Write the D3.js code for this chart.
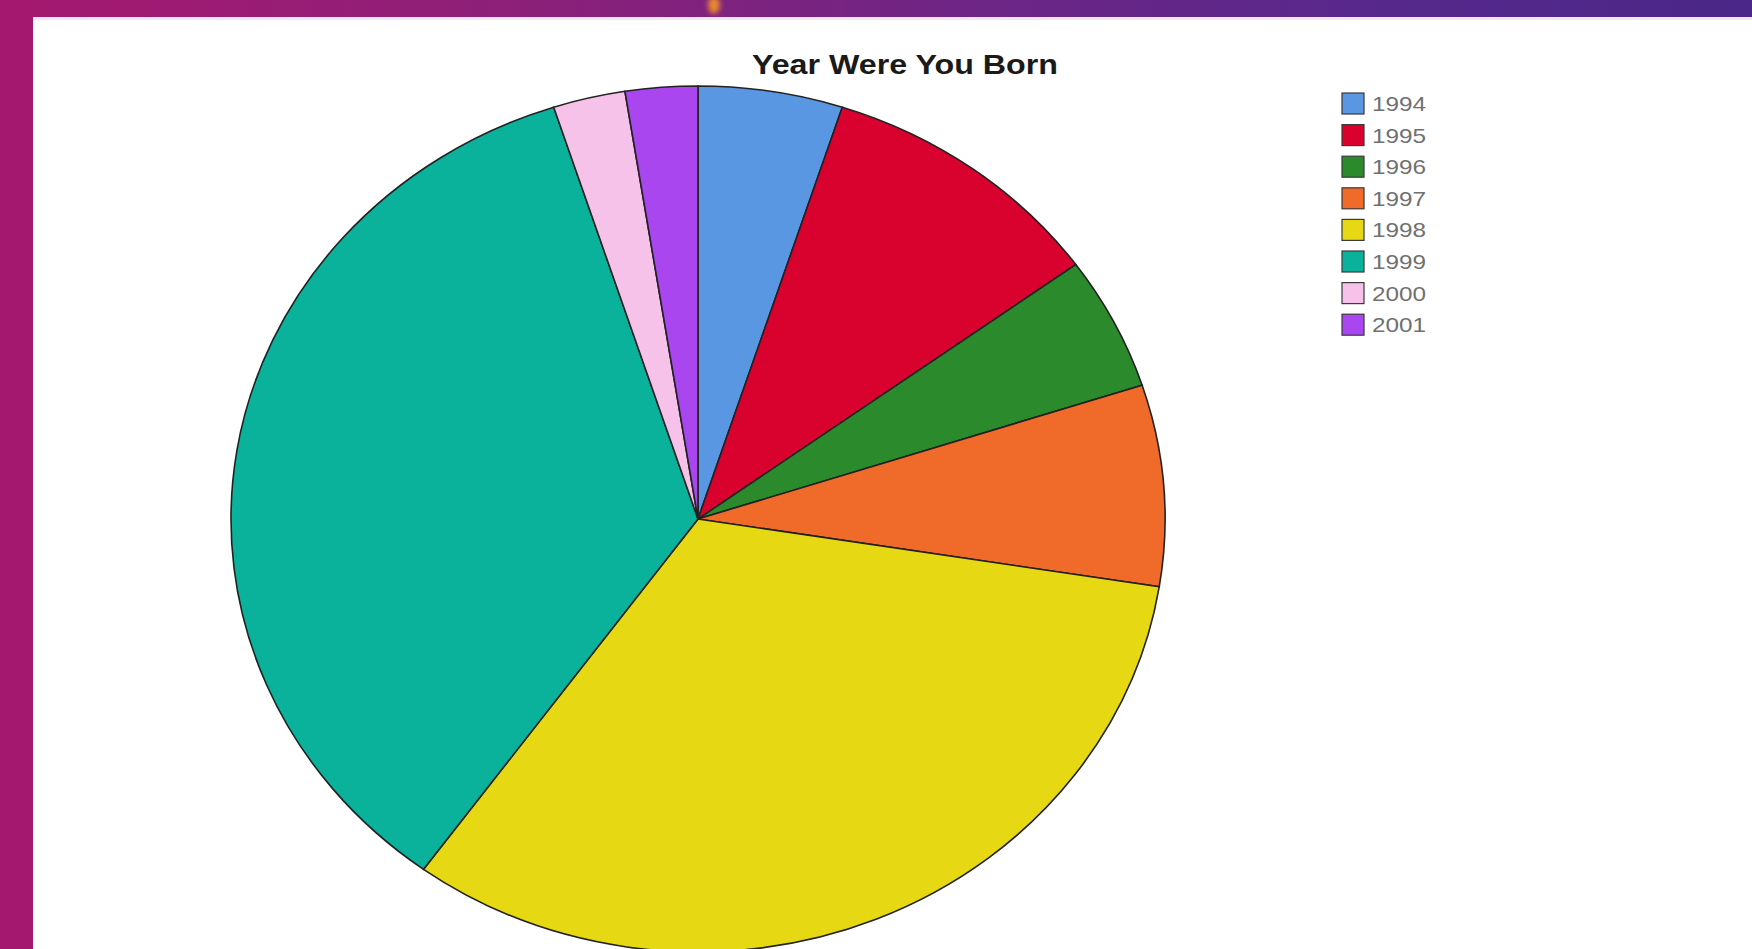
<!DOCTYPE html>
<html>
<head>
<meta charset="utf-8">
<script src="https://cdn.jsdelivr.net/npm/d3@7"></script>
<style>
  html, body { margin: 0; padding: 0; background: #fff; }
  svg { display: block; }
</style>
</head>
<body>
<svg id="chart" width="1752" height="949"></svg>
<script>
// Birth-year counts
const years  = ["1994", "1995", "1996", "1997", "1998", "1999", "2000", "2001"];
const counts = [2, 4, 2, 3, 13, 14, 1, 1];
const colors = ["#5a97e2", "#d9022f", "#2a8a2c", "#f06a2a", "#e6d812", "#0ab29c", "#f6c2ea", "#a946ef"];
const title  = "Year Were You Born";

const svg = d3.select("#chart");
const W = 1752, H = 949;

// window frame: gradient header band and left strip
const defs = svg.append("defs");
const grad = defs.append("linearGradient").attr("id", "band").attr("x1", 0).attr("x2", 1);
[["0%", "#a5186f"], ["30%", "#8c2079"], ["55%", "#6e2585"], ["80%", "#56288c"], ["100%", "#4a2788"]]
  .forEach(([o, c]) => grad.append("stop").attr("offset", o).attr("stop-color", c));
const blur = defs.append("filter").attr("id", "soft").attr("x", "-50%").attr("y", "-50%").attr("width", "200%").attr("height", "200%");
blur.append("feGaussianBlur").attr("stdDeviation", 2.5);

svg.append("rect").attr("width", W).attr("height", H).attr("fill", "#ffffff");
svg.append("rect").attr("x", 0).attr("y", 0).attr("width", W).attr("height", 17).attr("fill", "url(#band)");
svg.append("rect").attr("x", 0).attr("y", 0).attr("width", 33).attr("height", H).attr("fill", "#a5186f");
svg.append("rect").attr("x", 33).attr("y", 17).attr("width", W - 33).attr("height", 3)
  .attr("fill", "#f3e6f3");
svg.append("ellipse").attr("cx", 714).attr("cy", 5).attr("rx", 6).attr("ry", 9)
  .attr("fill", "#e8862e").attr("filter", "url(#soft)");

// title
svg.append("text")
  .attr("x", 905).attr("y", 74)
  .attr("text-anchor", "middle")
  .attr("font-family", "Liberation Sans, Arial, sans-serif")
  .attr("font-weight", "bold")
  .attr("font-size", 28)
  .attr("textLength", 306)
  .attr("lengthAdjust", "spacingAndGlyphs")
  .attr("fill", "#1a1a1a")
  .text(title);

// pie (slightly squashed vertically)
const cx = 698, cy = 519, rx = 467, ry = 433;
const pie = d3.pie().sort(null).value(d => d)(counts);
const arc = d3.arc().innerRadius(0).outerRadius(rx);
const color = d3.scaleOrdinal().domain(years).range(colors);

svg.append("g")
  .attr("transform", `translate(${cx},${cy}) scale(1,${ry / rx})`)
  .selectAll("path")
  .data(pie)
  .join("path")
  .attr("d", arc)
  .attr("fill", (d, i) => color(years[i]))
  .attr("stroke", "#222222")
  .attr("stroke-width", 1.6)
  .attr("vector-effect", "non-scaling-stroke");

// legend
const legend = svg.append("g").attr("transform", "translate(1342,93)");
const item = legend.selectAll("g").data(years).join("g")
  .attr("transform", (d, i) => `translate(0,${i * 31.6})`);
item.append("rect")
  .attr("width", 22).attr("height", 21)
  .attr("fill", d => color(d))
  .attr("stroke", "#3a3a3a").attr("stroke-width", 1.2);
item.append("text")
  .attr("x", 30).attr("y", 18)
  .attr("font-family", "Liberation Sans, Arial, sans-serif")
  .attr("font-size", 21)
  .attr("textLength", 54)
  .attr("lengthAdjust", "spacingAndGlyphs")
  .attr("fill", "#707070")
  .text(d => d);
</script>
</body>
</html>
